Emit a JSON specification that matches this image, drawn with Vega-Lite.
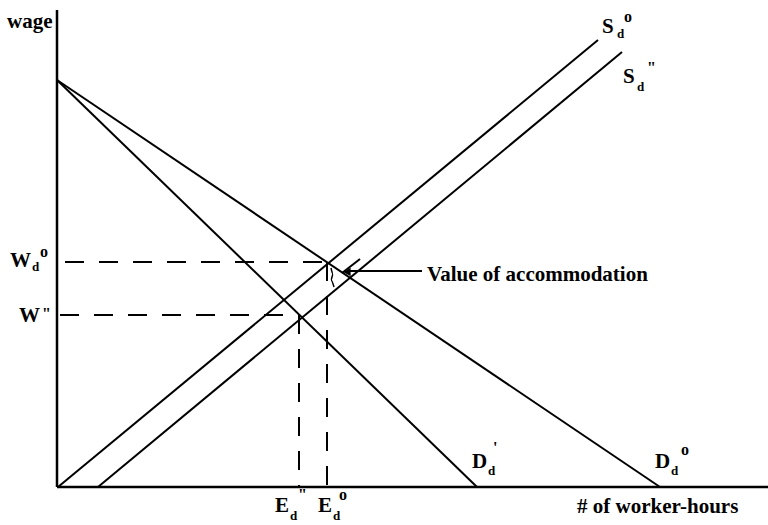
{
  "$schema": "https://vega.github.io/schema/vega-lite/v6.json",
  "width": 768,
  "height": 525,
  "padding": 0,
  "autosize": {"type": "none"},
  "background": "white",
  "config": {"view": {"stroke": null}, "axis": {"disable": true}},
  "datasets": {
    "axes": [
      {"name": "wage axis", "x1": 0, "y1": 0, "x2": 0, "y2": 477},
      {"name": "hours axis", "x1": 0, "y1": 0, "x2": 711, "y2": 0}
    ],
    "curves": [
      {"name": "Dd0", "x1": 0, "y1": 407, "x2": 603, "y2": 0},
      {"name": "Dd1", "x1": 0, "y1": 407, "x2": 420, "y2": 0},
      {"name": "Sd0", "x1": 1, "y1": 0, "x2": 541, "y2": 447},
      {"name": "Sd2", "x1": 41, "y1": 0, "x2": 565, "y2": 435},
      {"name": "arrow", "x1": 293, "y1": 216, "x2": 365, "y2": 216},
      {"name": "tick", "x1": 285, "y1": 214, "x2": 303, "y2": 228}
    ],
    "dashes": [
      {"name": "Wd0", "x1": 8, "y1": 225, "x2": 271, "y2": 225},
      {"name": "W2", "x1": 3, "y1": 172, "x2": 243, "y2": 172},
      {"name": "Ed2", "x1": 242, "y1": 172, "x2": 242, "y2": 0},
      {"name": "Ed0", "x1": 270, "y1": 225, "x2": 270, "y2": 0}
    ],
    "brace": [
      {"o": 1, "x": 274, "y": 219},
      {"o": 2, "x": 276, "y": 213},
      {"o": 3, "x": 274, "y": 207},
      {"o": 4, "x": 277, "y": 200}
    ],
    "tip": [{"x": 290, "y": 215}],
    "main": [
      {"t": "wage", "x": -50, "y": 459},
      {"t": "# of worker-hours", "x": 520, "y": -26},
      {"t": "Value of accommodation", "x": 370, "y": 206},
      {"t": "W", "x": -47, "y": 220},
      {"t": "W", "x": -38, "y": 165},
      {"t": "S", "x": 545, "y": 454},
      {"t": "S", "x": 566, "y": 404},
      {"t": "D", "x": 415, "y": 19},
      {"t": "D", "x": 598, "y": 19},
      {"t": "E", "x": 218, "y": -25},
      {"t": "E", "x": 261, "y": -25}
    ],
    "subs": [
      {"t": "d", "x": -25, "y": 216},
      {"t": "d", "x": 560, "y": 449},
      {"t": "d", "x": 580, "y": 396},
      {"t": "d", "x": 431, "y": 12},
      {"t": "d", "x": 614, "y": 12},
      {"t": "d", "x": 233, "y": -33},
      {"t": "d", "x": 276, "y": -33}
    ],
    "sups": [
      {"t": "o", "x": -17, "y": 230},
      {"t": "\"", "x": -15, "y": 168},
      {"t": "o", "x": 567, "y": 465},
      {"t": "\"", "x": 590, "y": 414},
      {"t": "'", "x": 436, "y": 34},
      {"t": "o", "x": 624, "y": 32},
      {"t": "\"", "x": 241, "y": -13},
      {"t": "o", "x": 282, "y": -13}
    ]
  },
  "layer": [
    {
      "data": {"name": "axes"},
      "mark": {"type": "rule", "strokeWidth": 2.5, "color": "black"},
      "encoding": {
        "x": {"field": "x1", "type": "quantitative", "scale": {"domain": [-57, 711], "nice": false, "zero": false}, "axis": null},
        "y": {"field": "y1", "type": "quantitative", "scale": {"domain": [-38, 487], "nice": false, "zero": false}, "axis": null},
        "x2": {"field": "x2"},
        "y2": {"field": "y2"}
      }
    },
    {
      "data": {"name": "curves"},
      "mark": {"type": "rule", "strokeWidth": 2, "color": "black"},
      "encoding": {
        "x": {"field": "x1", "type": "quantitative", "axis": null},
        "y": {"field": "y1", "type": "quantitative", "axis": null},
        "x2": {"field": "x2"},
        "y2": {"field": "y2"}
      }
    },
    {
      "data": {"name": "dashes"},
      "mark": {"type": "rule", "strokeWidth": 2, "color": "black", "strokeDash": [19, 15]},
      "encoding": {
        "x": {"field": "x1", "type": "quantitative", "axis": null},
        "y": {"field": "y1", "type": "quantitative", "axis": null},
        "x2": {"field": "x2"},
        "y2": {"field": "y2"}
      }
    },
    {
      "data": {"name": "brace"},
      "mark": {"type": "line", "strokeWidth": 1.5, "color": "black", "interpolate": "monotone"},
      "encoding": {
        "x": {"field": "x", "type": "quantitative", "axis": null},
        "y": {"field": "y", "type": "quantitative", "axis": null},
        "order": {"field": "o"}
      }
    },
    {
      "data": {"name": "tip"},
      "mark": {"type": "point", "shape": "triangle-left", "filled": true, "size": 70, "color": "black", "opacity": 1},
      "encoding": {
        "x": {"field": "x", "type": "quantitative", "axis": null},
        "y": {"field": "y", "type": "quantitative", "axis": null}
      }
    },
    {
      "data": {"name": "main"},
      "mark": {"type": "text", "font": "Liberation Serif", "fontWeight": "bold", "fontSize": 21, "align": "left", "baseline": "alphabetic", "color": "black"},
      "encoding": {
        "x": {"field": "x", "type": "quantitative", "axis": null},
        "y": {"field": "y", "type": "quantitative", "axis": null},
        "text": {"field": "t"}
      }
    },
    {
      "data": {"name": "subs"},
      "mark": {"type": "text", "font": "Liberation Serif", "fontWeight": "bold", "fontSize": 13, "align": "left", "baseline": "alphabetic", "color": "black"},
      "encoding": {
        "x": {"field": "x", "type": "quantitative", "axis": null},
        "y": {"field": "y", "type": "quantitative", "axis": null},
        "text": {"field": "t"}
      }
    },
    {
      "data": {"name": "sups"},
      "mark": {"type": "text", "font": "Liberation Serif", "fontWeight": "bold", "fontSize": 16, "align": "left", "baseline": "alphabetic", "color": "black"},
      "encoding": {
        "x": {"field": "x", "type": "quantitative", "axis": null},
        "y": {"field": "y", "type": "quantitative", "axis": null},
        "text": {"field": "t"}
      }
    }
  ]
}
